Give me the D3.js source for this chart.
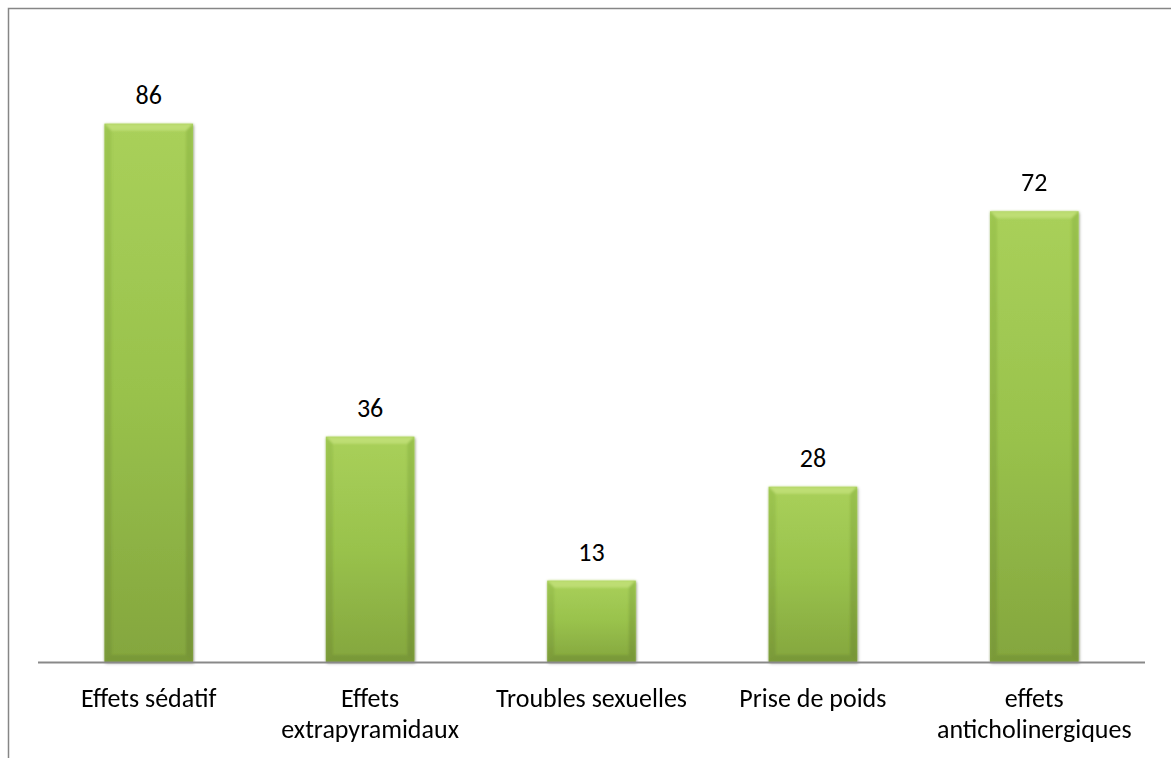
<!DOCTYPE html>
<html>
<head>
<meta charset="utf-8">
<script src="https://cdn.jsdelivr.net/npm/d3@7"></script>
<style>
  html, body { margin: 0; padding: 0; background: #fff; overflow: hidden; }
  svg { display: block; }
  text { font-family: Carlito, Calibri, Lato, sans-serif; fill: #000; }
</style>
</head>
<body>
<svg id="chart" width="1171" height="758"></svg>
<script>
const categories = [
  ["Effets sédatif"],
  ["Effets", "extrapyramidaux"],
  ["Troubles sexuelles"],
  ["Prise de poids"],
  ["effets", "anticholinergiques"]
];
const values = [86, 36, 13, 28, 72];
const yDomain = [0, 100];

const W = 1171, H = 758;
const svg = d3.select("#chart");

// chart border (extends beyond right/bottom edges)
svg.append("rect")
  .attr("x", 8.5).attr("y", 8.5)
  .attr("width", W + 20).attr("height", H + 20)
  .attr("fill", "#fff").attr("stroke", "#868686").attr("stroke-width", 1.5);

const idx = categories.map((d, i) => i);
const x = d3.scaleBand().domain(idx).range([38, 1145]).paddingInner(0.6).paddingOuter(0.3);
const y = d3.scaleLinear().domain(yDomain).range([662, 36]);

const defs = svg.append("defs");
const face = defs.append("linearGradient").attr("id", "face").attr("x1", 0).attr("y1", 0).attr("x2", 0).attr("y2", 1);
face.append("stop").attr("offset", "0%").attr("stop-color", "#a9d05a");
face.append("stop").attr("offset", "50%").attr("stop-color", "#99c24c");
face.append("stop").attr("offset", "100%").attr("stop-color", "#84a63e");
const side = defs.append("linearGradient").attr("id", "side").attr("x1", 0).attr("y1", 0).attr("x2", 0).attr("y2", 1);
side.append("stop").attr("offset", "0%").attr("stop-color", "#94bd4a");
side.append("stop").attr("offset", "100%").attr("stop-color", "#728f34");
const filt = defs.append("filter").attr("id", "sh").attr("x", "-10%").attr("y", "-10%").attr("width", "120%").attr("height", "120%");
filt.append("feDropShadow").attr("dx", 1).attr("dy", 1.5).attr("stdDeviation", 1.5).attr("flood-color", "#000").attr("flood-opacity", 0.3);
const blur = defs.append("filter").attr("id", "soft");
blur.append("feGaussianBlur").attr("stdDeviation", 0.8);

const bw = x.bandwidth();
const bev = 7;
const g = svg.append("g");
idx.forEach(i => {
  const x0 = x(i), x1 = x0 + bw, y0 = y(values[i]), y1 = y(0);
  const bg = g.append("g");
  bg.append("rect").attr("x", x0).attr("y", y0).attr("width", bw).attr("height", y1 - y0)
    .attr("fill", "url(#face)").attr("filter", "url(#sh)");
  const b = Math.min(bev, (y1 - y0) / 2);
  const bev_g = bg.append("g").attr("filter", "url(#soft)");
  bev_g.append("polygon").attr("points", [[x0, y0], [x1, y0], [x1 - b, y0 + b], [x0 + b, y0 + b]].join(" "))
    .attr("fill", "#c0df77").attr("opacity", 0.9);
  bev_g.append("polygon").attr("points", [[x0, y0], [x0 + b, y0 + b], [x0 + b, y1 - b], [x0, y1]].join(" "))
    .attr("fill", "url(#side)").attr("opacity", 0.55);
  bev_g.append("polygon").attr("points", [[x1, y0], [x1 - b, y0 + b], [x1 - b, y1 - b], [x1, y1]].join(" "))
    .attr("fill", "url(#side)").attr("opacity", 0.75);
  bev_g.append("polygon").attr("points", [[x0, y1], [x0 + b, y1 - b], [x1 - b, y1 - b], [x1, y1]].join(" "))
    .attr("fill", "#6e8c30").attr("opacity", 0.5);
  g.append("text").attr("x", x0 + bw / 2).attr("y", y0 - 20)
    .attr("text-anchor", "middle").attr("font-size", 26).text(values[i]);
});

// axis line
svg.append("line").attr("x1", 38).attr("x2", 1145).attr("y1", y(0) + 0.5).attr("y2", y(0) + 0.5)
  .attr("stroke", "#898989").attr("stroke-width", 1.8);

// category labels
idx.forEach(i => {
  const t = svg.append("text").attr("text-anchor", "middle").attr("font-size", 26)
    .attr("x", x(i) + bw / 2).attr("y", 707);
  categories[i].forEach((line, k) => {
    t.append("tspan").attr("x", x(i) + bw / 2).attr("y", 707 + k * 31).text(line);
  });
});
</script>
</body>
</html>
